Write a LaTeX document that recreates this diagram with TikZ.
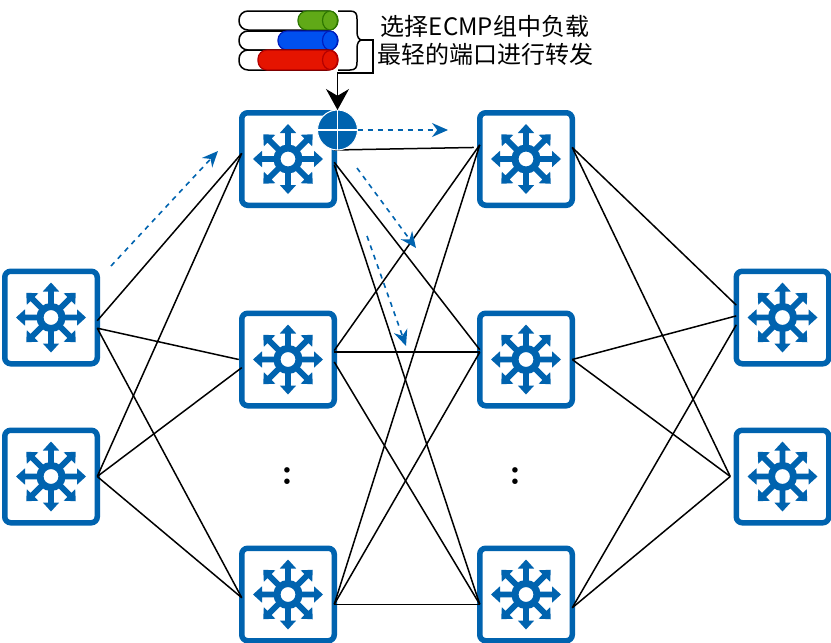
\documentclass[tikz,border=0pt]{standalone}
\usepackage{fontspec}
\usepackage{xcolor}
\usetikzlibrary{arrows.meta}
\newfontfamily\cjk{Noto Sans CJK SC}
\definecolor{swblue}{HTML}{0063AF}
\definecolor{grnfill}{HTML}{60A917}
\definecolor{grnline}{HTML}{2D7600}
\definecolor{blufill}{HTML}{0050EF}
\definecolor{bluline}{HTML}{001DBC}
\definecolor{redfill}{HTML}{E51400}
\definecolor{redline}{HTML}{B20000}
\tikzset{
  swbox/.style={draw=swblue, line width=5.5pt, fill=white, rounded corners=6pt, minimum size=92.5pt, inner sep=0pt, outer sep=0pt},
  link/.style={black, line width=1.5pt},
  flow/.style={swblue, line width=1.6pt, dash pattern=on 5pt off 5pt, -{Stealth[length=16pt,width=14pt]}},
  port/.style={circle, fill=swblue, draw=white, line width=1pt, minimum size=40pt, inner sep=0pt, outer sep=0pt},
  swicon/.pic={
    \foreach \a in {0,45,...,315} {
      \fill[swblue, rotate=\a] (12,-2.9) -- (26,-2.9) -- (26,-8.2) -- (35,0) -- (26,8.2) -- (26,2.9) -- (12,2.9) -- cycle;
    }
    \draw[swblue, line width=7pt, fill=white] (0,0) circle (11);
  }
}
\newcommand{\queue}[7]{%
  \filldraw[draw=black, fill=white, line width=1.5pt, rounded corners=9pt] (239,#3) rectangle (336,#4);
  \filldraw[draw=#6, fill=#5, line width=1.2pt, rounded corners=9pt] (#1,#3) rectangle (#2,#4);
  \draw[draw=#6, fill=#5, line width=1.2pt] (#2-8,#7) ellipse (7.5 and 9.5);
}

\begin{document}
\begin{tikzpicture}[x=1pt,y=-1pt]
    \useasboundingbox (0,0) rectangle (831,643);

    % Switches
    \foreach \n/\x/\y in {l1/51/317.5, l2/51/476.5, s1/288/159, s2/288/359.5, s3/288/594.5,
                          t1/526/159, t2/526/359.5, t3/526/594.5, r1/782.5/317.5, r2/782.5/476.5} {
        \node[swbox] (\n) at (\x,\y) {};
        \pic at (\n) {swicon};
    }
    \coordinate (t1in) at ([xshift=-6pt]t1.166);
    \coordinate (r2in) at ([xshift=-6pt]r2.west);
    \coordinate (s2a) at ([xshift=-3pt]s2.west);

    % Links
    \foreach \a/\b in {l1.-4/s1.173, l1.-13/s2a, l1.-13/s3.184,
                       l2.east/s1.173, l2.east/s2.190, l2.east/s3.184,
                       s1.11/t1in, s1.-4/t2.168, s1.-7/t3.192,
                       s2.11/t1.163, s2.9/t2.171, s2.-3/t3.192,
                       s3.-12/t1.163, s3.-12/t2.171, s3.-12/t3.192,
                       t1.14/r1.165, t1.14/r2in,
                       t2.east/r1.178, t2.east/r2in,
                       t3.-16/r1.189, t3.-16/r2in} {
        \draw[link] (\a) -- (\b);
    }

    % Port on the first switch
    \node[port] (p1) at (337.5,130) {};
    \draw[white, line width=1.2pt] (p1.north) -- (p1.south);
    \draw[white, line width=1.2pt] (p1.west) -- (p1.east);

    % Dashed flows
    \coordinate (fa) at (448,130);
    \coordinate (fb) at (357,168);
    \coordinate (fc) at (416,248);
    \coordinate (fd) at (367,236);
    \coordinate (fe) at (406,346);
    \coordinate (ff) at (111,266);
    \coordinate (fg) at (218,151);
    \draw[flow] (p1.east) -- (fa);
    \draw[flow] (fb) -- (fc);
    \draw[flow] (fd) -- (fe);
    \draw[flow] (ff) -- (fg);

    % Queues of the ECMP group
    \queue{298}{338}{11}{30}{grnfill}{grnline}{20.5}
    \queue{278}{338}{31}{50}{blufill}{bluline}{40.5}
    \queue{258}{338}{50}{70}{redfill}{redline}{60}

    % Brace and arrow to the port
    \draw[black, line width=1.5pt] (338,11) -- (350,11) .. controls (356,11) and (357,14) .. (357,19)
        -- (357,32) .. controls (357,37) and (359,40) .. (362,40)
        .. controls (359,40) and (357,43) .. (357,48) -- (357,62)
        .. controls (357,67) and (356,70) .. (350,70) -- (338,70);
    \coordinate (brc) at (362,40);
    \coordinate (bnd) at (373,73);
    \draw[black, line width=1.5pt, -{Stealth[length=21pt,width=23pt]}] (brc) -- (373,40) -- (bnd) -| (p1.north);

    % Labels
    \node[font=\cjk\fontsize{24}{28}\selectfont, align=center, inner sep=0pt] (note) at (485,40)
        {选择ECMP组中负载\\最轻的端口进行转发};
    \node[font=\bfseries\fontsize{38}{38}\selectfont, inner sep=0pt] (da) at (287,476) {:};
    \node[font=\bfseries\fontsize{38}{38}\selectfont, inner sep=0pt] (db) at (515,476) {:};
\end{tikzpicture}
\end{document}
